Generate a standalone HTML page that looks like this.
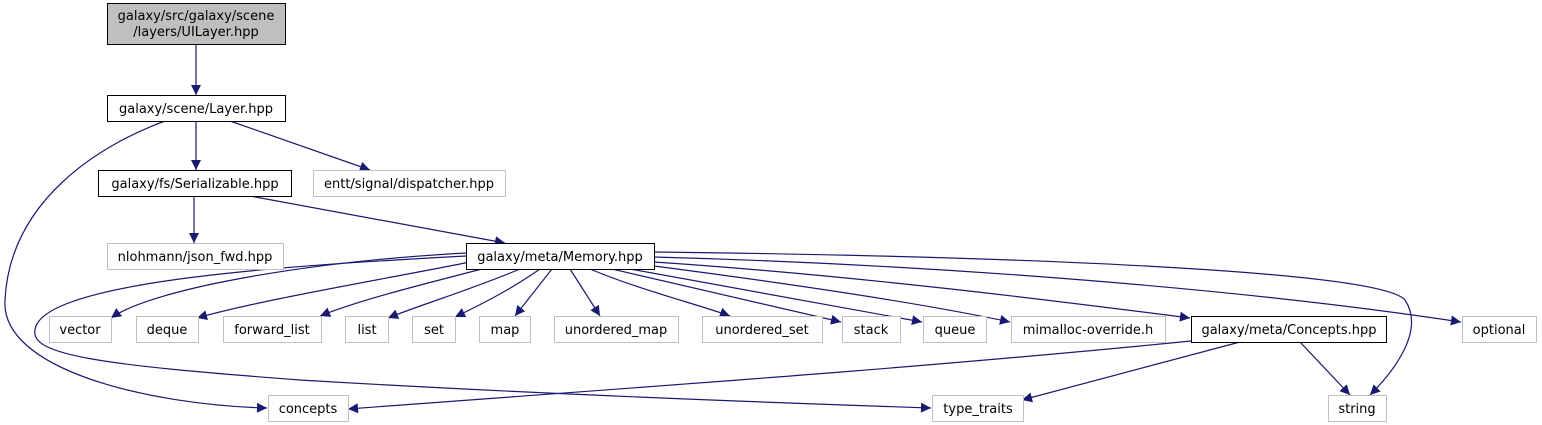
<!DOCTYPE html>
<html><head><meta charset="utf-8"><style>
html,body{margin:0;padding:0;background:#fff;}
svg{display:block;}
text{font-family:"DejaVu Sans","Liberation Sans",sans-serif;font-size:13px;text-anchor:middle;fill:#000;}
</style></head><body>
<svg width="1542" height="425" viewBox="0 0 1542 425" xmlns="http://www.w3.org/2000/svg">
<defs>
<marker id="a" viewBox="0 0 10 10" refX="10" refY="5" markerWidth="12" markerHeight="10" markerUnits="userSpaceOnUse" orient="auto">
<path d="M0,0 L10,5 L0,10 z" fill="#191970"/>
</marker>
</defs>
<g fill="none" stroke="#191970" stroke-width="1.2" marker-end="url(#a)">
<path d="M196,44 L196,95"/>
<path d="M196,121 L196,170"/>
<path d="M230,121 L370,170"/>
<path d="M165,121 C100,145 10,200 5,300 C0,370 150,405 267,408"/>
<path d="M194,196 L194,243"/>
<path d="M250,196 L505,243"/>
<path d="M466,253 C300,262 150,290 111,318"/>
<path d="M470,262 C380,280 260,300 197,318"/>
<path d="M482,269 C420,285 360,300 320,316"/>
<path d="M520,269 C470,290 420,305 388,318"/>
<path d="M540,269 C510,290 480,305 455,317"/>
<path d="M552,269 L515,316"/>
<path d="M570,269 L600,316"/>
<path d="M590,269 C640,290 700,305 730,316"/>
<path d="M612,269 C700,290 790,310 841,322"/>
<path d="M630,269 C750,290 860,310 922,322"/>
<path d="M654,266 C800,285 930,305 1010,322"/>
<path d="M654,262 C850,275 1050,300 1190,318"/>
<path d="M654,257 C950,265 1250,290 1461,322"/>
<path d="M654,252 C1000,256 1380,270 1405,300 C1425,330 1395,370 1370,395"/>
<path d="M466,256 C300,265 40,280 35,330 C30,355 100,365 300,380 C500,392 750,402 931,408"/>
<path d="M1191,341 C900,370 600,390 348,409"/>
<path d="M1240,342 L1022,400"/>
<path d="M1300,342 L1350,395"/>
</g>
<g stroke-width="1">
<rect x="107.5" y="3.5" width="178" height="41" fill="#bfbfbf" stroke="#000"/>
<rect x="107.5" y="95.5" width="178" height="26" fill="#fff" stroke="#000"/>
<rect x="98.5" y="170.5" width="193" height="26" fill="#fff" stroke="#000"/>
<rect x="313.5" y="170.5" width="192" height="26" fill="#fff" stroke="#bfbfbf"/>
<rect x="107.5" y="243.5" width="176" height="26" fill="#fff" stroke="#bfbfbf"/>
<rect x="466.5" y="243.5" width="188" height="26" fill="#fff" stroke="#000"/>
<rect x="49.5" y="316.5" width="62" height="26" fill="#fff" stroke="#bfbfbf"/>
<rect x="136.5" y="316.5" width="62" height="26" fill="#fff" stroke="#bfbfbf"/>
<rect x="223.5" y="316.5" width="98" height="26" fill="#fff" stroke="#bfbfbf"/>
<rect x="345.5" y="316.5" width="43" height="26" fill="#fff" stroke="#bfbfbf"/>
<rect x="412.5" y="316.5" width="43" height="26" fill="#fff" stroke="#bfbfbf"/>
<rect x="479.5" y="316.5" width="51" height="26" fill="#fff" stroke="#bfbfbf"/>
<rect x="554.5" y="316.5" width="124" height="26" fill="#fff" stroke="#bfbfbf"/>
<rect x="702.5" y="316.5" width="120" height="26" fill="#fff" stroke="#bfbfbf"/>
<rect x="842.5" y="316.5" width="58" height="26" fill="#fff" stroke="#bfbfbf"/>
<rect x="923.5" y="316.5" width="63" height="26" fill="#fff" stroke="#bfbfbf"/>
<rect x="1011.5" y="316.5" width="154" height="26" fill="#fff" stroke="#bfbfbf"/>
<rect x="1191.5" y="316.5" width="195" height="26" fill="#fff" stroke="#000"/>
<rect x="1462.5" y="316.5" width="74" height="26" fill="#fff" stroke="#bfbfbf"/>
<rect x="268.5" y="395.5" width="80" height="26" fill="#fff" stroke="#bfbfbf"/>
<rect x="932.5" y="395.5" width="91" height="26" fill="#fff" stroke="#bfbfbf"/>
<rect x="1328.5" y="395.5" width="58" height="26" fill="#fff" stroke="#bfbfbf"/>
</g>
<text x="196" y="20">galaxy/src/galaxy/scene</text>
<text x="196" y="36">/layers/UILayer.hpp</text>
<text x="196" y="113">galaxy/scene/Layer.hpp</text>
<text x="195" y="188">galaxy/fs/Serializable.hpp</text>
<text x="409" y="188">entt/signal/dispatcher.hpp</text>
<text x="195" y="261">nlohmann/json_fwd.hpp</text>
<text x="560" y="261">galaxy/meta/Memory.hpp</text>
<text x="80" y="334">vector</text>
<text x="167" y="334">deque</text>
<text x="272" y="334">forward_list</text>
<text x="367" y="334">list</text>
<text x="434" y="334">set</text>
<text x="505" y="334">map</text>
<text x="616" y="334">unordered_map</text>
<text x="762" y="334">unordered_set</text>
<text x="871" y="334">stack</text>
<text x="955" y="334">queue</text>
<text x="1088" y="334">mimalloc-override.h</text>
<text x="1289" y="334">galaxy/meta/Concepts.hpp</text>
<text x="1499" y="334">optional</text>
<text x="308" y="413">concepts</text>
<text x="978" y="413">type_traits</text>
<text x="1357" y="413">string</text>
</svg>
</body></html>
